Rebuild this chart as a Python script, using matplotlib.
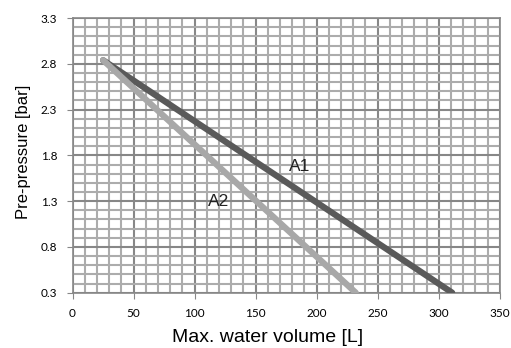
import matplotlib
matplotlib.use("Agg")
import matplotlib.pyplot as plt
from matplotlib.ticker import MultipleLocator, FormatStrFormatter

a1_x = [25, 311]
a1_y = [2.84, 0.3]
a2_x = [25, 232]
a2_y = [2.84, 0.3]
x_ticks = [0, 50, 100, 150, 200, 250, 300, 350]
y_ticks = [0.3, 0.8, 1.3, 1.8, 2.3, 2.8, 3.3]

fig = plt.figure(figsize=(5.11, 3.48), dpi=100)
ax = fig.add_axes([0.142, 0.159, 0.836, 0.789])

ax.set_xlim(0, 350)
ax.set_ylim(0.3, 3.3)
ax.set_xticks(x_ticks)
ax.set_yticks(y_ticks)
ax.yaxis.set_major_formatter(FormatStrFormatter('%.1f'))
ax.xaxis.set_minor_locator(MultipleLocator(10))
ax.yaxis.set_minor_locator(MultipleLocator(0.1))
ax.grid(which='minor', color='#acacac', linewidth=1.5)
ax.grid(which='major', color='#878787', linewidth=1.5)
ax.set_axisbelow(True)

ax.plot(a1_x, a1_y, color='#5a5a5a', linewidth=4.5, solid_capstyle='round', zorder=3)
ax.plot(a2_x, a2_y, color='#a8a8a8', linewidth=4.5, solid_capstyle='round', zorder=3)

ax.text(186, 1.68, 'A1', fontsize=12.5, family='Liberation Sans', ha='center', va='center', color='#222222', zorder=4)
ax.text(120, 1.30, 'A2', fontsize=12.5, family='Liberation Sans', ha='center', va='center', color='#222222', zorder=4)

for s in ax.spines.values():
    s.set_color('#878787')
    s.set_linewidth(1.2)
ax.tick_params(which='major', direction='out', length=4, color='#878787', labelsize=8.5, pad=7)
ax.tick_params(which='minor', length=0)
for lab in ax.get_xticklabels() + ax.get_yticklabels():
    lab.set_family('Lato')

ax.set_xlabel('Max. water volume [L]', fontsize=14, family='Liberation Sans')
ax.set_ylabel('Pre-pressure [bar]', fontsize=12, family='Liberation Sans')
ax.xaxis.set_label_coords(0.457, -0.132)
ax.yaxis.set_label_coords(-0.097, 0.514)

fig.savefig('out.png', dpi=100)
